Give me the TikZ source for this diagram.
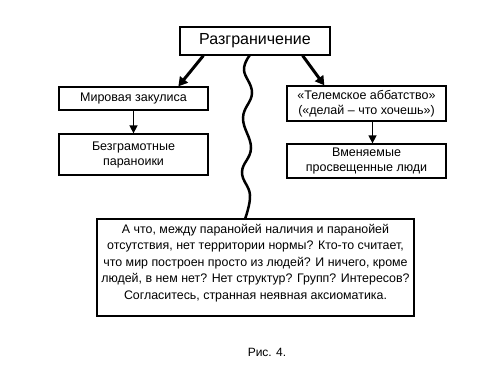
\documentclass[tikz,border=0pt]{standalone}
\usepackage{fontspec}
\setmainfont{Liberation Sans}
\usetikzlibrary{arrows.meta}
\begin{document}
\begin{tikzpicture}[x=1pt,y=-1pt,
  box/.style={draw,line width=1.3pt,inner sep=0pt,align=center,font=\fontsize{12.5}{15}\selectfont},
  thick arrow/.style={line width=3pt,-{Triangle[length=9pt,width=10pt]}},
  thin arrow/.style={line width=1.5pt,-{Triangle[length=8pt,width=8pt]}}]
\useasboundingbox (0,0) rectangle (500,375);
\node[box,minimum width=150pt,minimum height=28pt,font=\fontsize{16}{19}\selectfont] (top) at (255,41) {Разграничение};
\node[box,minimum width=149pt,minimum height=23pt] (b1) at (133.5,98.5) {Мировая закулиса};
\node[box,minimum width=149pt,minimum height=41pt] (b2) at (133.5,154.5) {Безграмотные\\параноики};
\node[box,minimum width=159pt,minimum height=35pt] (b3) at (366.5,103.5) {«Телемское аббатство»\\(«делай – что хочешь»)};
\node[box,minimum width=159pt,minimum height=34pt] (b4) at (366.5,161) {Вменяемые\\просвещенные люди};
\node[box,minimum width=317pt,minimum height=97pt,font=\fontsize{12.4}{16.5}\selectfont,text depth=12pt] (big) at (255.5,267.5) {А что, между паранойей наличия и паранойей\\отсутствия, нет территории нормы? Кто-то считает,\\что мир построен просто из людей? И ничего, кроме\\людей, в нем нет? Нет структур? Групп? Интересов?\\Согласитесь, странная неявная аксиоматика.};
\node[font=\fontsize{12}{14}\selectfont] (cap) at (267,352) {Рис. 4.};
\draw[thick arrow] ([xshift=24pt]top.south west) -- ([xshift=120pt]b1.north west);
\draw[thick arrow] ([xshift=-28pt]top.south east) -- ([xshift=38pt]b3.north west);
\draw[thin arrow] (b1.south) -- (b2.north);
\draw[thin arrow] ([xshift=6pt]b3.south) -- ([xshift=6pt]b4.north);
\draw[line width=2.5pt] plot[smooth,tension=0.7] coordinates {(250,55) (244,70) (252,93) (243,118) (251,148) (242,172) (250,195) (245,219)};
\end{tikzpicture}
\end{document}
